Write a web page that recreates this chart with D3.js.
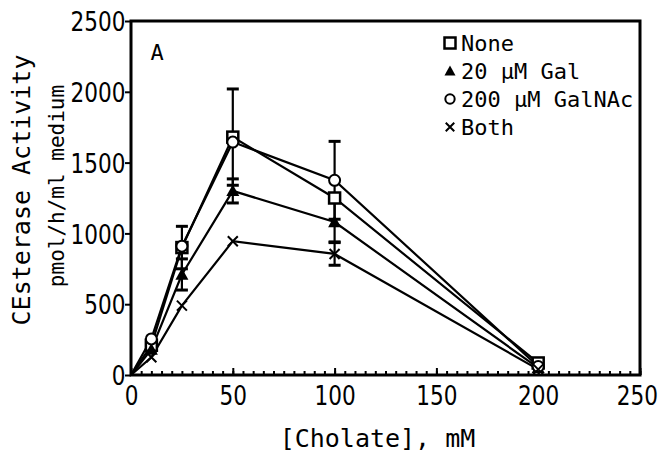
<!DOCTYPE html>
<html>
<head>
<meta charset="utf-8">
<script src="https://cdn.jsdelivr.net/npm/d3@7"></script>
<style>
    body { margin: 0; background: #fff; }
    svg text { fill: #000; }
    .tick-label { font-family: 'DejaVu Sans', sans-serif; font-size: 27px; }
    .mono { font-family: 'DejaVu Sans Mono', monospace; }
</style>
</head>
<body>
<div id="chart"></div>
<script>
'use strict';

// Chart values
const cholate = [0, 10, 25, 50, 100, 200];

const noneValues   = [0, 210, 900, 1680, 1250, 85];
const galValues    = [0, 180, 710, 1300, 1080, 50];
const galnacValues = [0, 255, 910, 1645, 1375, 60];
const bothValues   = [0, 125, 490, 945, 855, 40];

// +/- error (0 = no bar drawn)
const noneErrors   = [0, 0, 150, 340, 0, 0];
const galErrors    = [0, 0, 110, 85, 140, 0];
const galnacErrors = [0, 0, 0, 0, 275, 0];
const bothErrors   = [0, 0, 0, 0, 80, 0];

const seriesNames = ['None', '20 μM Gal', '200 μM GalNAc', 'Both'];
const xTicks = [0, 50, 100, 150, 200, 250];
const yTicks = [0, 500, 1000, 1500, 2000, 2500];

const width = 659, height = 457;
const margins = { top: 21, right: 19, bottom: 82, left: 131 };
const innerW = width - margins.left - margins.right;
const innerH = height - margins.top - margins.bottom;

const series = [
    { name: seriesNames[0], symbol: 'square',   values: noneValues,   errors: noneErrors },
    { name: seriesNames[1], symbol: 'triangle', values: galValues,    errors: galErrors },
    { name: seriesNames[2], symbol: 'circle',   values: galnacValues, errors: galnacErrors },
    { name: seriesNames[3], symbol: 'cross',    values: bothValues,   errors: bothErrors }
].map(s => ({
    ...s,
    points: cholate.map((x, i) => ({ x, y: s.values[i], err: s.errors[i] }))
}));

const svg = d3.select('#chart').append('svg')
    .attr('width', width)
    .attr('height', height);

const chart = svg.append('g')
    .attr('transform', `translate(${margins.left}, ${margins.top})`);

const scaleX = d3.scaleLinear().domain([0, 250]).range([0, innerW]);
const scaleY = d3.scaleLinear().domain([0, 2500]).range([innerH, 0]);

// Narrow the tick numbers a bit, like the original typeface
const squeeze = 'scale(0.8, 1)';

// Minor ticks on x every 5, pointing inward
chart.append('g')
    .attr('transform', `translate(0, ${innerH})`)
    .call(d3.axisBottom(scaleX).tickValues(d3.range(0, 251, 5)).tickSize(-4).tickFormat(''))
    .call(g => g.select('.domain').remove())
    .selectAll('line').attr('stroke-width', 2);

// Major x axis
chart.append('g')
    .attr('transform', `translate(0, ${innerH})`)
    .call(d3.axisBottom(scaleX).tickValues(xTicks).tickSize(-7).tickPadding(11).tickFormat(d3.format('d')))
    .call(g => g.select('.domain').remove())
    .call(g => g.selectAll('line').attr('stroke-width', 2))
    .call(g => g.selectAll('text').attr('class', 'tick-label').attr('fill', '#000').attr('transform', squeeze))
    // last label sits against the page edge
    .call(g => g.selectAll('text').filter(d => d === 250).attr('x', -4));

// y axis, ticks outward
chart.append('g')
    .call(d3.axisLeft(scaleY).tickValues(yTicks).tickSize(6).tickPadding(1).tickFormat(d3.format('d')))
    .call(g => g.select('.domain').remove())
    .call(g => g.selectAll('line').attr('stroke-width', 2))
    .call(g => g.selectAll('text').attr('class', 'tick-label').attr('fill', '#000')
        .attr('dy', '0.36em').attr('transform', squeeze));

// Frame
chart.append('rect')
    .attr('width', innerW)
    .attr('height', innerH)
    .attr('fill', 'none')
    .attr('stroke', '#000')
    .attr('stroke-width', 3);

// Error bars
const errData = series.flatMap(s => s.points.filter(p => p.err > 0));
const errG = chart.append('g').attr('stroke', '#000').attr('stroke-width', 2.2);
errData.forEach(p => {
    const cx = scaleX(p.x);
    const top = scaleY(p.y + p.err), bot = scaleY(p.y - p.err);
    errG.append('line').attr('x1', cx).attr('x2', cx).attr('y1', top).attr('y2', bot);
    [top, bot].forEach(y => errG.append('line')
        .attr('x1', cx - 6).attr('x2', cx + 6).attr('y1', y).attr('y2', y).attr('stroke-width', 3));
});

// Lines
const line = d3.line().x(d => scaleX(d.x)).y(d => scaleY(d.y));
chart.selectAll('path.series')
    .data(series)
    .join('path')
    .classed('series', true)
    .attr('d', d => line(d.points))
    .attr('fill', 'none')
    .attr('stroke', '#000')
    .attr('stroke-width', 2.2);

// Marker drawing helper
function drawMarker(g, symbol, cx, cy, size = 1) {
    if (symbol === 'square') {
        const h = 5.5 * size;
        g.append('rect').attr('x', cx - h).attr('y', cy - h).attr('width', 2 * h).attr('height', 2 * h)
            .attr('fill', '#fff').attr('stroke', '#000').attr('stroke-width', 2.5);
    } else if (symbol === 'triangle') {
        const h = 6.5 * size;
        g.append('path').attr('d', `M${cx},${cy - h}L${cx + h},${cy + h * 0.8}L${cx - h},${cy + h * 0.8}Z`)
            .attr('fill', '#000');
    } else if (symbol === 'circle') {
        g.append('circle').attr('cx', cx).attr('cy', cy).attr('r', 5.5 * size)
            .attr('fill', '#fff').attr('stroke', '#000').attr('stroke-width', 2);
    } else {
        const h = 5 * size;
        g.append('path').attr('d', `M${cx - h},${cy - h}L${cx + h},${cy + h}M${cx - h},${cy + h}L${cx + h},${cy - h}`)
            .attr('stroke', '#000').attr('stroke-width', 2).attr('fill', 'none');
    }
}

// Markers (skip origin)
const markG = chart.append('g');
series.forEach(s => s.points.filter(p => p.x > 0)
    .forEach(p => drawMarker(markG, s.symbol, scaleX(p.x), scaleY(p.y))));

// Legend
const legend = svg.append('g').attr('transform', 'translate(450, 43)');
series.forEach((s, i) => {
    const row = legend.append('g').attr('transform', `translate(0, ${i * 28})`);
    drawMarker(row, s.symbol, 0, 0, i === 0 ? 1 : 0.85);
    row.append('text')
        .attr('class', 'mono')
        .attr('x', 11)
        .attr('dy', '0.36em')
        .style('font-size', '22px')
        .text(s.name);
});

// Panel letter
svg.append('text')
    .attr('class', 'mono')
    .attr('x', 157).attr('y', 52)
    .attr('text-anchor', 'middle')
    .attr('dy', '0.36em')
    .style('font-size', '22px')
    .text('A');

// Axis titles
svg.append('text')
    .attr('class', 'mono')
    .attr('x', margins.left + innerW / 2 - 8).attr('y', 447)
    .attr('text-anchor', 'middle')
    .style('font-size', '25px')
    .text('[Cholate], mM');

svg.append('text')
    .attr('class', 'mono')
    .attr('transform', 'translate(30, 190) rotate(-90)')
    .attr('text-anchor', 'middle')
    .style('font-size', '25px')
    .text('CEsterase Activity');

svg.append('text')
    .attr('class', 'mono')
    .attr('transform', 'translate(64, 186) rotate(-90)')
    .attr('text-anchor', 'middle')
    .style('font-size', '21px')
    .text('pmol/h/ml medium');
</script>
</body>
</html>
